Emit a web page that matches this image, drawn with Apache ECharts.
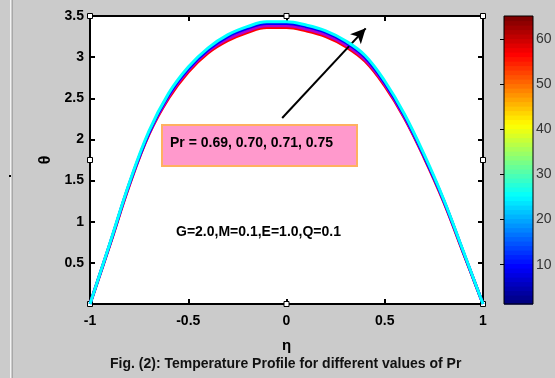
<!DOCTYPE html>
<html>
<head>
<meta charset="utf-8">
<script src="https://cdn.jsdelivr.net/npm/echarts@6/dist/echarts.min.js"></script>
<style>
  html, body { margin: 0; padding: 0; background: #cbcbcb; }
  #chart { width: 555px; height: 378px; }
</style>
</head>
<body>
<div id="chart"></div>
<script>
// eta grid and temperature profiles
const eta = [-1, -0.9, -0.8, -0.7, -0.6, -0.5, -0.4, -0.3, -0.2, -0.1, 0,
             0.1, 0.2, 0.3, 0.4, 0.5, 0.6, 0.7, 0.8, 0.9, 1];
const thetaPr069 = [0, 0.71, 1.44, 2.06, 2.50, 2.82, 3.05, 3.20, 3.30, 3.36, 3.36,
                    3.32, 3.25, 3.13, 2.95, 2.65, 2.26, 1.78, 1.24, 0.62, 0];
const thetaPr070 = [0, 0.72, 1.45, 2.07, 2.52, 2.84, 3.07, 3.22, 3.32, 3.38, 3.38,
                    3.34, 3.27, 3.15, 2.97, 2.67, 2.27, 1.79, 1.25, 0.63, 0];
const thetaPr071 = [0, 0.72, 1.46, 2.08, 2.54, 2.86, 3.09, 3.25, 3.35, 3.41, 3.41,
                    3.37, 3.30, 3.18, 3.00, 2.69, 2.29, 1.80, 1.26, 0.63, 0];
const thetaPr075 = [0, 0.73, 1.47, 2.10, 2.56, 2.88, 3.11, 3.27, 3.37, 3.43, 3.43,
                    3.39, 3.32, 3.20, 3.02, 2.71, 2.31, 1.82, 1.27, 0.64, 0];
const prNames = ["Pr=0.69", "Pr=0.70", "Pr=0.71", "Pr=0.75"];
const lineColors = ["#ff0000", "#b000d0", "#0000ff", "#00ffff"];

// arrow annotation (data coords)
const arrowStart = [-0.022, 2.26];
const arrowEnd = [0.403, 3.35];

// colorbar
const colorbarMin = 1.3;
const colorbarMax = 65.1;
const colorbarTicks = [10, 20, 30, 40, 50, 60];
const colorLevels = 64;

function jet(t) {
  const c = (v) => Math.round(255 * Math.max(0, Math.min(1, v)));
  const r = c(Math.min(4 * t - 1.5, -4 * t + 4.5));
  const g = c(Math.min(4 * t - 0.5, -4 * t + 3.5));
  const b = c(Math.min(4 * t + 0.5, -4 * t + 2.5));
  return `rgb(${r},${g},${b})`;
}

const cells = [];
for (let i = 0; i < colorLevels; i++) {
  const step = (colorbarMax - colorbarMin) / colorLevels;
  cells.push([colorbarMin + i * step, colorbarMin + (i + 1) * step, i / (colorLevels - 1)]);
}

const boldText = { color: "#000", fontWeight: "bold", fontFamily: "Liberation Sans, Arial", fontSize: 14 };
const axisLine = { onZero: false, lineStyle: { color: "#000", width: 2 } };
const axisTick = { inside: true, length: 5, lineStyle: { color: "#000", width: 2 } };

const chart = echarts.init(document.getElementById("chart"), null, { renderer: "canvas" });

const profiles = [thetaPr069, thetaPr070, thetaPr071, thetaPr075];
const lineSeries = profiles.map((vals, k) => ({
  name: prNames[k],
  type: "line",
  xAxisIndex: 0,
  yAxisIndex: 0,
  smooth: 0.4,
  symbol: "none",
  lineStyle: { color: lineColors[k], width: 3 },
  z: 3 + k,
  data: eta.map((x, i) => [x, vals[i]]),
}));

const handlePoints = [[-1, 0], [0, 0], [1, 0], [-1, 3.5], [0, 3.5], [1, 3.5], [-1, 1.75], [1, 1.75]];

chart.setOption({
  backgroundColor: "#cbcbcb",
  animation: false,
  grid: [
    { left: 90, top: 16, width: 393, height: 288, show: true, backgroundColor: "#fff",
      borderColor: "#000", borderWidth: 2 },
    { left: 504, top: 16, width: 29, height: 288, show: true, backgroundColor: "transparent",
      borderColor: "#000", borderWidth: 1, z: 5 },
  ],
  xAxis: [
    { type: "value", gridIndex: 0, min: -1, max: 1, interval: 0.5, name: "η",
      nameLocation: "middle", nameGap: 34, nameTextStyle: { ...boldText, fontSize: 15 },
      axisLine, axisTick,
      axisLabel: { ...boldText, margin: 10 },
      splitLine: { show: false } },
    { type: "value", gridIndex: 0, position: "top", min: -1, max: 1, interval: 0.5,
      axisLine, axisTick,
      axisLabel: { show: false }, splitLine: { show: false } },
    { type: "value", gridIndex: 1, min: 0, max: 1, show: false },
  ],
  yAxis: [
    { type: "value", gridIndex: 0, min: 0, max: 3.5, interval: 0.5, name: "θ",
      nameLocation: "middle", nameGap: 33, nameRotate: 90,
      nameTextStyle: { ...boldText, fontSize: 16 },
      axisLine, axisTick,
      axisLabel: { ...boldText, margin: 6, showMinLabel: false },
      splitLine: { show: false } },
    { type: "value", gridIndex: 0, position: "right", min: 0, max: 3.5, interval: 0.5,
      axisLine, axisTick,
      axisLabel: { show: false }, splitLine: { show: false } },
    { type: "value", gridIndex: 1, position: "right", min: colorbarMin, max: colorbarMax,
      axisLine: { show: false },
      axisTick: { inside: true, length: 4, customValues: colorbarTicks,
                  lineStyle: { color: "#000", width: 1 } },
      axisLabel: { customValues: colorbarTicks, color: "#333", fontSize: 14,
                   fontFamily: "Liberation Sans, Arial", margin: 3 },
      splitLine: { show: false } },
  ],
  series: [
    ...lineSeries,
    {
      type: "line", xAxisIndex: 0, yAxisIndex: 0, data: [], silent: true,
      markLine: {
        silent: true, animation: false,
        symbol: ["none", "arrow"], symbolSize: [11, 15],
        lineStyle: { color: "#000", width: 2, type: "solid" },
        label: { show: false },
        data: [[{ coord: arrowStart }, { coord: arrowEnd }]],
      },
      markPoint: {
        silent: true, symbol: "rect", symbolSize: 5, label: { show: false },
        itemStyle: { color: "#fff", borderColor: "#000", borderWidth: 1 },
        data: handlePoints.map((p) => ({ coord: p })),
      },
      z: 10,
    },
    {
      type: "custom", xAxisIndex: 2, yAxisIndex: 2, z: 1, silent: true,
      data: cells,
      renderItem: (params, api) => {
        const p0 = api.coord([0, api.value(0)]);
        const p1 = api.coord([1, api.value(1)]);
        return {
          type: "rect",
          shape: { x: p0[0], y: p1[1], width: p1[0] - p0[0], height: p0[1] - p1[1] + 0.6 },
          style: { fill: jet(api.value(2)) },
        };
      },
    },
  ],
  graphic: [
    { type: "rect", left: 10, top: 0, shape: { width: 1, height: 378 }, style: { fill: "#f4f4f4" } },
    { type: "rect", left: 12, top: 0, shape: { width: 1, height: 378 }, style: { fill: "#a8a8a8" } },
    { type: "rect", left: 9, top: 175, shape: { width: 2, height: 2 }, style: { fill: "#000" } },
    { type: "rect", left: 161, top: 124, z: 20,
      shape: { width: 195, height: 41 },
      style: { fill: "#ff99cc", stroke: "#ffb060", lineWidth: 2 } },
    { type: "text", left: 170, top: 136, z: 21,
      style: { text: "Pr = 0.69, 0.70, 0.71, 0.75", fill: "#000", font: "bold 14px Liberation Sans, Arial" } },
    { type: "text", left: 176, top: 225, z: 21,
      style: { text: "G=2.0,M=0.1,E=1.0,Q=0.1", fill: "#000", font: "bold 14px Liberation Sans, Arial" } },
    { type: "text", left: 110, top: 357, z: 21,
      style: { text: "Fig. (2): Temperature Profile for different values of Pr", fill: "#111",
               font: "bold 14px Liberation Sans, Arial" } },
  ],
});
</script>
</body>
</html>
